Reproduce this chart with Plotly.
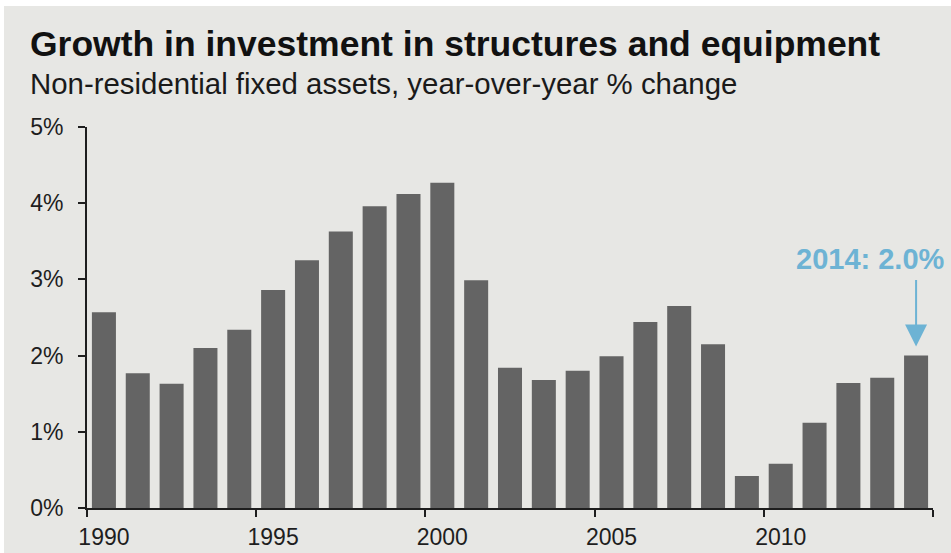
import plotly.graph_objects as go

# Year-over-year % change in non-residential fixed assets
years = list(range(1990, 2015))
growth = [2.57, 1.77, 1.63, 2.10, 2.34, 2.86, 3.25, 3.63, 3.96, 4.12, 4.27,
          2.99, 1.84, 1.68, 1.80, 1.99, 2.44, 2.65, 2.15, 0.42, 0.58, 1.12,
          1.64, 1.71, 2.00]

y_ticks = [0, 1, 2, 3, 4, 5]
y_labels = ["0%", "1%", "2%", "3%", "4%", "5%"]
x_label_years = [1990, 1995, 2000, 2005, 2010]

BG = "#e7e7e4"
BAR = "#646464"
ACCENT = "#6db3d4"
FONT = "Liberation Sans, Arial, sans-serif"

W, H = 951, 553
ML, MR, MT, MB = 87, 18, 127, 45
PW, PH = W - ML - MR, H - MT - MB


def px_x(px):
    return (px - ML) / PW


def px_y(py):
    return (H - MB - py) / PH


fig = go.Figure()
fig.add_trace(go.Bar(x=years, y=growth, marker=dict(color=BAR, line=dict(width=0)),
                     width=0.71, xaxis="x", yaxis="y"))
# invisible trace to carry the label axis
fig.add_trace(go.Scatter(x=[years[0]], y=[0], mode="markers", marker=dict(opacity=0),
                         xaxis="x2", yaxis="y", hoverinfo="skip", showlegend=False))

x_range = [years[0] - 0.5, years[-1] + 0.5]
boundaries = [years[0] - 0.5 + 5 * i for i in range(6)]

fig.update_layout(
    width=W, height=H,
    margin=dict(l=ML, r=MR, t=MT, b=MB, pad=0, autoexpand=False),
    paper_bgcolor=BG, plot_bgcolor=BG,
    showlegend=False,
    font=dict(family=FONT, color="#1e1e1e", size=22),
    xaxis=dict(range=x_range, tickmode="array", tickvals=boundaries,
               showticklabels=False, ticks="outside", ticklen=7, tickwidth=2,
               tickcolor="#1e1e1e", showline=True, linecolor="#1e1e1e",
               linewidth=2, showgrid=False, zeroline=False, automargin=False),
    xaxis2=dict(range=x_range, overlaying="x", anchor="y", side="bottom",
                tickmode="array", tickvals=x_label_years,
                ticktext=[str(y) for y in x_label_years], ticks="",
                showline=False, showgrid=False, zeroline=False, automargin=False,
                tickfont=dict(size=23, color="#1e1e1e"), ticklabelstandoff=13),
    yaxis=dict(range=[0, 5], tickmode="array", tickvals=y_ticks, ticktext=y_labels,
               ticks="outside", ticklen=7, tickwidth=2, tickcolor="#1e1e1e",
               showline=True, linecolor="#1e1e1e", linewidth=2, automargin=False,
               showgrid=False, zeroline=False,
               tickfont=dict(size=23, color="#1e1e1e"), ticklabelstandoff=10),
    bargap=0.29,
)

# title and subtitle
fig.add_annotation(text="<b>Growth in investment in structures and equipment</b>",
                   xref="paper", yref="paper", x=px_x(28), y=px_y(44),
                   xanchor="left", yanchor="middle", showarrow=False,
                   font=dict(size=35.5, color="#111111", family=FONT))
fig.add_annotation(text="Non-residential fixed assets, year-over-year % change",
                   xref="paper", yref="paper", x=px_x(28), y=px_y(84),
                   xanchor="left", yanchor="middle", showarrow=False,
                   font=dict(size=29.4, color="#1a1a1a", family=FONT))

# callout for the latest year
fig.add_annotation(text=f"<b>{years[-1]}: {growth[-1]:.1f}%</b>",
                   x=years[-1], y=growth[-1], xref="x", yref="y",
                   xanchor="center", yanchor="middle", xshift=-46, yshift=97,
                   showarrow=False, font=dict(size=29, color=ACCENT, family=FONT))
fig.add_annotation(text="", x=years[-1], y=growth[-1], xref="x", yref="y",
                   showarrow=True, ax=0, ay=-77, standoff=9,
                   arrowhead=2, arrowsize=2.2, arrowwidth=2, arrowcolor=ACCENT)

# thin white frame strips along the top and left edges
fig.add_shape(type="rect", xref="paper", yref="paper",
              x0=px_x(0), x1=px_x(W), y0=px_y(6), y1=px_y(0),
              fillcolor="white", line=dict(width=0), layer="above")
fig.add_shape(type="rect", xref="paper", yref="paper",
              x0=px_x(0), x1=px_x(4), y0=px_y(H), y1=px_y(0),
              fillcolor="white", line=dict(width=0), layer="above")

fig.write_html("out.html")
